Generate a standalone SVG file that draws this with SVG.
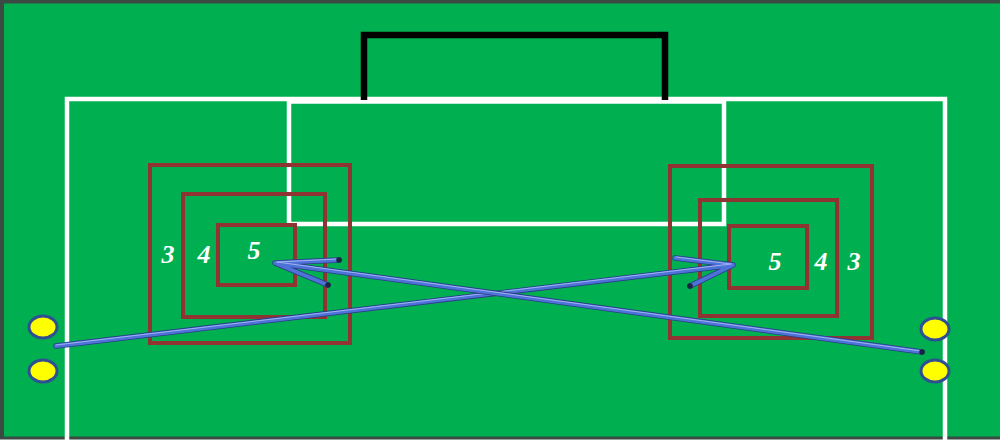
<svg xmlns="http://www.w3.org/2000/svg" width="1000" height="446" viewBox="0 0 1000 446">
  <defs>
    <style>
      .field { fill: #00b050; }
      .border { fill: none; stroke: #3b4a42; stroke-width: 4; }
      .white { fill: none; stroke: #ffffff; stroke-width: 4.5; }
      .goal { fill: none; stroke: #000000; stroke-width: 6.5; }
      .sq { fill: none; stroke: #8f3333; stroke-width: 4; }
      .num { font-family: "Liberation Serif", "Times New Roman", serif; font-weight: bold; font-style: italic; font-size: 26px; fill: #ffffff; text-anchor: middle; }
      .ball { fill: #ffff00; stroke: #2f4f93; stroke-width: 3; }
      .arr-dark { fill: none; stroke: #2a3d86; stroke-width: 5.5; stroke-linecap: round; stroke-linejoin: round; }
      .arr-mid { fill: none; stroke: #4f72d9; stroke-width: 3.8; stroke-linecap: round; stroke-linejoin: round; }
      .arr-hi { fill: none; stroke: #9fb4f2; stroke-width: 1; stroke-linecap: round; stroke-linejoin: round; }
      .cap { fill: #1a2440; }
    </style>
  </defs>

  <rect x="0" y="0" width="1000" height="446" fill="#ffffff"/>
  <g id="pitch">
    <rect class="field" x="0" y="0" width="1000" height="439"/>
    <path class="border" d="M2,439 V1.5 H1000"/>
    <line x1="0" y1="438" x2="1000" y2="438" stroke="#3b4a42" stroke-width="3"/>
  </g>

  <g id="penalty-area">
    <path class="white" d="M67,446 V99 H945 V446"/>
  </g>
  <g id="goal-area">
    <path class="white" d="M289,101 V224 H724 V101"/>
    <line class="white" x1="289" y1="101.5" x2="724" y2="101.5"/>
  </g>
  <g id="goal">
    <path class="goal" d="M364,100 V35 H665 V100"/>
  </g>

  <g id="left-zones">
    <rect class="sq" x="150" y="165" width="200" height="178"/>
    <rect class="sq" x="183" y="194" width="142" height="123"/>
    <rect class="sq" x="218" y="225" width="77" height="60"/>
    <text class="num" x="168" y="263">3</text>
    <text class="num" x="204" y="263">4</text>
    <text class="num" x="254" y="259">5</text>
  </g>

  <g id="right-zones">
    <rect class="sq" x="670" y="166" width="202" height="172"/>
    <rect class="sq" x="700" y="200" width="137" height="116"/>
    <rect class="sq" x="729" y="226" width="78" height="62"/>
    <text class="num" x="775" y="270">5</text>
    <text class="num" x="821" y="270">4</text>
    <text class="num" x="854" y="270">3</text>
  </g>

  <g id="left-players">
    <ellipse class="ball" cx="43" cy="327" rx="14" ry="11"/>
    <ellipse class="ball" cx="43" cy="371" rx="14" ry="11"/>
  </g>
  <g id="right-players">
    <ellipse class="ball" cx="935" cy="329" rx="14" ry="11"/>
    <ellipse class="ball" cx="935" cy="371" rx="14" ry="11"/>
  </g>

  <g id="connectors">
    <g id="pass-left-to-right">
      <path class="arr-dark" d="M56,346 L733,265 M675,258 L733,265 L690,286"/>
      <path class="arr-mid" d="M56,346 L733,265 M675,258 L733,265 L690,286"/>
      <path class="arr-hi" d="M56,345 L731,264 M676,257 L731,264"/>
      <circle class="cap" cx="690" cy="286" r="2.8"/>
    </g>
    <g id="pass-right-to-left">
      <path class="arr-dark" d="M922,352 L275,263 M339,260 L275,263 L328,285"/>
      <path class="arr-mid" d="M922,352 L275,263 M339,260 L275,263 L328,285"/>
      <path class="arr-hi" d="M921,351 L277,262 M338,259 L277,262"/>
      <circle class="cap" cx="922" cy="352" r="2.8"/>
      <circle class="cap" cx="339" cy="260" r="2.8"/>
      <circle class="cap" cx="328" cy="285" r="2.8"/>
    </g>
  </g>
</svg>
